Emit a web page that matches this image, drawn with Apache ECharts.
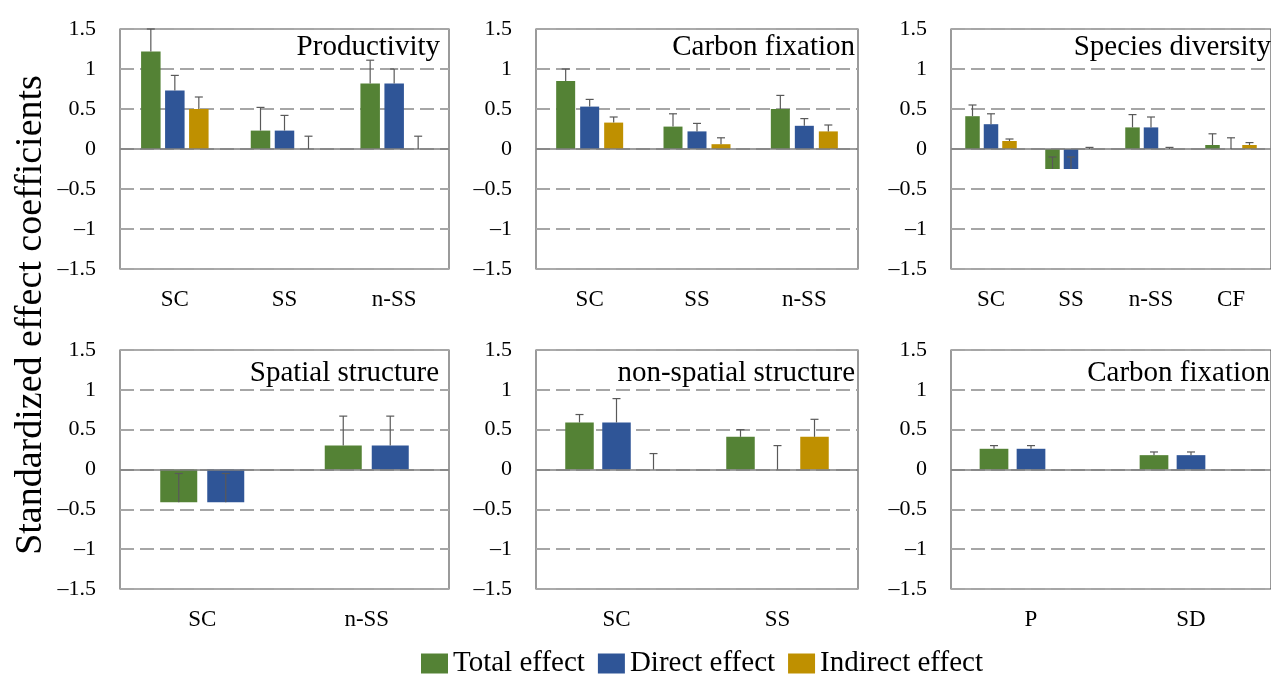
<!DOCTYPE html>
<html><head><meta charset="utf-8">
<script src="https://cdn.jsdelivr.net/npm/echarts@6/dist/echarts.min.js"></script>
<style>html,body{margin:0;padding:0;background:#fff}#c{width:1271px;height:677px}</style>
</head><body><div id="c"></div>
<script>
// ---------------- data ----------------
const yTickLabels = ['–1.5', '–1', '–0.5', '0', '0.5', '1', '1.5'];
const seriesNames = ['Total effect', 'Direct effect', 'Indirect effect'];
const yAxisTitle = 'Standardized effect coefficients';

// Panel 1: Productivity
const prodTitle = 'Productivity';
const prodCats = ['SC', 'SS', 'n-SS'];
const prodTotal = [1.22, 0.23, 0.82];
const prodDirect = [0.73, 0.23, 0.82];
const prodIndirect = [0.50, 0, 0];
const prodTotalErr = [1.50, 0.52, 1.11];
const prodDirectErr = [0.92, 0.42, 1.00];
const prodIndirectErr = [0.65, 0.16, 0.16];

// Panel 2: Carbon fixation (top)
const cfixTitle = 'Carbon fixation';
const cfixCats = ['SC', 'SS', 'n-SS'];
const cfixTotal = [0.85, 0.28, 0.50];
const cfixDirect = [0.53, 0.22, 0.29];
const cfixIndirect = [0.33, 0.06, 0.22];
const cfixTotalErr = [1.00, 0.44, 0.67];
const cfixDirectErr = [0.62, 0.32, 0.38];
const cfixIndirectErr = [0.40, 0.14, 0.30];

// Panel 3: Species diversity
const divTitle = 'Species diversity';
const divCats = ['SC', 'SS', 'n-SS', 'CF'];
const divTotal = [0.41, -0.25, 0.27, 0.05];
const divDirect = [0.31, -0.25, 0.27, 0];
const divIndirect = [0.10, 0, 0, 0.05];
const divTotalErr = [0.55, -0.10, 0.43, 0.19];
const divDirectErr = [0.44, -0.10, 0.40, 0.14];
const divIndirectErr = [0.125, 0.02, 0.02, 0.08];

// Panel 4: Spatial structure
const spTitle = 'Spatial structure';
const spCats = ['SC', 'n-SS'];
const spTotal = [-0.41, 0.30];
const spDirect = [-0.41, 0.30];
const spTotalErr = [-0.05, 0.67];
const spDirectErr = [-0.05, 0.67];

// Panel 5: non-spatial structure
const nspTitle = 'non-spatial structure';
const nspCats = ['SC', 'SS'];
const nspTotal = [0.59, 0.41];
const nspDirect = [0.59, 0];
const nspIndirect = [0, 0.41];
const nspTotalErr = [0.69, 0.50];
const nspDirectErr = [0.89, 0.30];
const nspIndirectErr = [0.20, 0.63];

// Panel 6: Carbon fixation (bottom)
const cfix2Title = 'Carbon fixation';
const cfix2Cats = ['P', 'SD'];
const cfix2Total = [0.26, 0.18];
const cfix2Direct = [0.26, 0.18];
const cfix2Indirect = [null, null];
const cfix2TotalErr = [0.30, 0.22];
const cfix2DirectErr = [0.30, 0.22];

// ---------------- style / layout ----------------
const COLORS = ['#548235', '#2F5597', '#BF9000'];
const FONT = "'Liberation Serif', 'Times New Roman', serif";

const panels = [
  {title: prodTitle, cats: prodCats, vals: [prodTotal, prodDirect, prodIndirect], errs: [prodTotalErr, prodDirectErr, prodIndirectErr],
   left: 120, top: 29, width: 329, height: 240, bw: 19.5, gap: 4.5, tx: 440},
  {title: cfixTitle, cats: cfixCats, vals: [cfixTotal, cfixDirect, cfixIndirect], errs: [cfixTotalErr, cfixDirectErr, cfixIndirectErr],
   left: 536, top: 29, width: 322, height: 240, bw: 19, gap: 5, tx: 855},
  {title: divTitle, cats: divCats, vals: [divTotal, divDirect, divIndirect], errs: [divTotalErr, divDirectErr, divIndirectErr],
   left: 951, top: 29, width: 330, height: 240, bw: 14.5, gap: 4, tx: 1271},
  {title: spTitle, cats: spCats, vals: [spTotal, spDirect], errs: [spTotalErr, spDirectErr],
   left: 120, top: 350, width: 329, height: 239, bw: 37, gap: 10, tx: 439},
  {title: nspTitle, cats: nspCats, vals: [nspTotal, nspDirect, nspIndirect], errs: [nspTotalErr, nspDirectErr, nspIndirectErr],
   left: 536, top: 350, width: 322, height: 239, bw: 28.5, gap: 8.5, tx: 855},
  {title: cfix2Title, cats: cfix2Cats, vals: [cfix2Total, cfix2Direct, cfix2Indirect], errs: [cfix2TotalErr, cfix2DirectErr, null],
   left: 951, top: 350, width: 330, height: 239, bw: 28.7, gap: 8.3, tx: 1270}
];

const grids = [], xAxes = [], yAxes = [], series = [], graphics = [];

panels.forEach((p, gi) => {
  grids.push({left: p.left, top: p.top, width: p.width, height: p.height, show: true,
    borderColor: '#595959', borderWidth: 1.2, backgroundColor: 'transparent', containLabel: false});
  xAxes.push({type: 'category', gridIndex: gi, data: p.cats,
    axisLine: {show: false}, axisTick: {show: false}, splitLine: {show: false},
    axisLabel: {margin: 19, color: '#000', fontSize: 23, fontFamily: FONT}});
  yAxes.push({type: 'value', gridIndex: gi, min: -1.5, max: 1.5, interval: 0.5,
    axisLine: {show: false}, axisTick: {show: false},
    splitLine: {show: true, lineStyle: {color: '#a6a6a6', width: 2, type: [14, 6]}},
    axisLabel: {margin: 24, color: '#000', fontSize: 22, fontFamily: FONT,
      formatter: v => yTickLabels[Math.round((v + 1.5) / 0.5)]}});
  const n = p.vals.length;
  p.vals.forEach((vals, si) => {
    const s = {type: 'bar', name: seriesNames[si], xAxisIndex: gi, yAxisIndex: gi, data: vals,
      barWidth: p.bw, barGap: (p.gap / p.bw * 100) + '%',
      itemStyle: {color: COLORS[si]}, z: 2};
    if (si === 0) {
      s.markLine = {silent: true, symbol: 'none', label: {show: false},
        lineStyle: {color: '#7f7f7f', width: 1.5, type: 'solid'}, data: [{yAxis: 0}], z: 3};
    }
    series.push(s);
  });
  p.errs.forEach((errs, si) => {
    if (!errs) return;
    const offset = (si - (n - 1) / 2) * (p.bw + p.gap);
    const data = errs.map((e, i) => [i, p.vals[si][i] == null ? 0 : p.vals[si][i], e]);
    series.push({type: 'custom', name: 'err' + gi + '_' + si, xAxisIndex: gi, yAxisIndex: gi, z: 5,
      encode: {x: 0, y: [1, 2]}, data: data, silent: true,
      renderItem: (params, api) => {
        const c = api.value(0), v = api.value(1), e = api.value(2);
        const p0 = api.coord([c, v]), p1 = api.coord([c, e]);
        const x = p0[0] + offset;
        const st = {stroke: '#595959', lineWidth: 1.2};
        return {type: 'group', children: [
          {type: 'line', shape: {x1: x, y1: p0[1], x2: x, y2: p1[1]}, style: st},
          {type: 'line', shape: {x1: x - 4, y1: p1[1], x2: x + 4, y2: p1[1]}, style: st}
        ]};
      }});
  });
  graphics.push({type: 'text', x: p.tx, y: p.top + (gi < 3 ? 18 : 23),
    style: {text: p.title, font: '29px ' + FONT, fill: '#000', textAlign: 'right', textVerticalAlign: 'middle'}, z: 10});
});

graphics.push({type: 'text', x: 31, y: 315, rotation: Math.PI / 2,
  style: {text: yAxisTitle, font: '38px ' + FONT, fill: '#000', textAlign: 'center', textVerticalAlign: 'middle'}});

const chart = echarts.init(document.getElementById('c'), null, {renderer: 'canvas'});
chart.setOption({
  animation: false,
  backgroundColor: '#fff',
  textStyle: {fontFamily: FONT},
  grid: grids, xAxis: xAxes, yAxis: yAxes, series: series, graphic: graphics,
  legend: {data: seriesNames, left: 416, top: 644, itemWidth: 27, itemHeight: 20, itemGap: 13,
    icon: 'rect', textStyle: {fontSize: 29, color: '#000', fontFamily: FONT}, selectedMode: false}
});
</script></body></html>
